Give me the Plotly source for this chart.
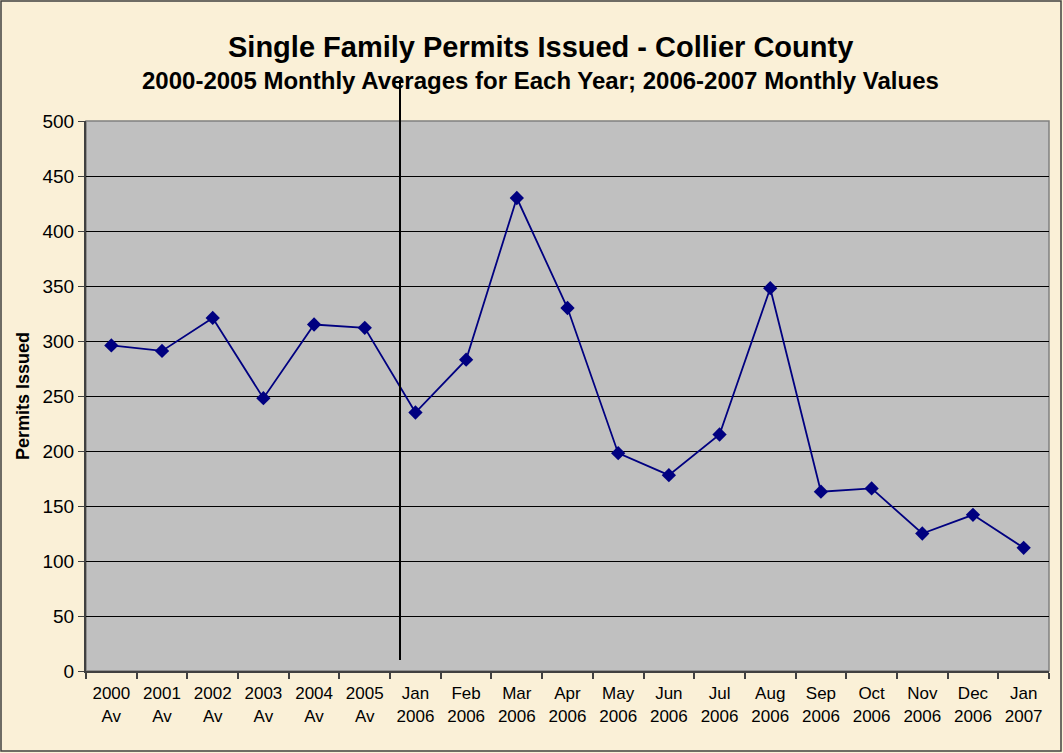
import plotly.graph_objects as go

categories = ["2000<br>Av", "2001<br>Av", "2002<br>Av", "2003<br>Av", "2004<br>Av", "2005<br>Av",
              "Jan<br>2006", "Feb<br>2006", "Mar<br>2006", "Apr<br>2006", "May<br>2006", "Jun<br>2006",
              "Jul<br>2006", "Aug<br>2006", "Sep<br>2006", "Oct<br>2006", "Nov<br>2006", "Dec<br>2006",
              "Jan<br>2007"]
permits = [296, 291, 321, 248, 315, 312, 235, 283, 430, 330, 198, 178, 215, 348, 163, 166, 125, 142, 112]
y_ticks = [0, 50, 100, 150, 200, 250, 300, 350, 400, 450, 500]

W, H = 1063, 753
L, R, T, B = 86, 14, 121, 82
pw = W - L - R
ph = H - T - B

fig = go.Figure()
fig.add_trace(go.Scatter(
    x=list(range(len(categories))), y=permits, mode="lines+markers",
    line=dict(color="#000080", width=1.8),
    marker=dict(symbol="diamond", size=11, color="#000080"),
    showlegend=False, hoverinfo="skip"))

def px(x):
    return (x - L) / pw

def py(y):
    return (H - B - y) / ph

shapes = [
    # divider line
    dict(type="line", xref="paper", yref="paper", x0=px(400), x1=px(400), y0=py(660), y1=py(80),
         line=dict(color="black", width=2)),
    # outer frame
    dict(type="rect", xref="paper", yref="paper", x0=px(1), x1=px(1061), y0=py(751), y1=py(1),
         line=dict(color="#404040", width=1.5), layer="below"),
    # plot border
    dict(type="rect", xref="paper", yref="paper", x0=0, x1=1, y0=0, y1=1,
         line=dict(color="#808080", width=1.5), layer="below"),
]

fig.add_annotation(text="<b>Single Family Permits Issued - Collier County</b>", xref="paper", yref="paper",
                   x=px(540), y=py(47), xanchor="center", yanchor="middle", showarrow=False,
                   font=dict(family="Arial", size=29, color="black"))
fig.add_annotation(text="<b>2000-2005 Monthly Averages for Each Year; 2006-2007 Monthly Values</b>",
                   xref="paper", yref="paper", x=px(540), y=py(80), xanchor="center", yanchor="middle",
                   showarrow=False, font=dict(family="Arial", size=24, color="black"))

fig.update_layout(
    width=W, height=H,
    margin=dict(l=L, r=R, t=T, b=B),
    paper_bgcolor="#FAF0D7",
    plot_bgcolor="#C0C0C0",
    shapes=shapes,
    font=dict(family="Arial", size=16, color="black"),
    xaxis=dict(
        range=[-0.5, len(categories) - 0.5],
        tickmode="array", tickvals=list(range(len(categories))), ticktext=categories,
        showgrid=False, zeroline=False,
        showline=True, linecolor="#404040", linewidth=2,
        ticks="", ticklabelstandoff=6,
        tickfont=dict(family="Arial", size=17, color="black"),
        minor=dict(ticks="outside", tickmode="array",
                   tickvals=[i - 0.5 for i in range(len(categories) + 1)],
                   ticklen=6, tickcolor="#404040", tickwidth=1.5, showgrid=False),
        fixedrange=True,
    ),
    yaxis=dict(
        range=[0, 500], tickmode="array", tickvals=y_ticks,
        showgrid=True, gridcolor="black", gridwidth=1,
        zeroline=False, showline=True, linecolor="#404040", linewidth=2,
        ticks="outside", ticklen=6, tickcolor="#404040",
        tickfont=dict(family="Arial", size=19, color="black"),
        title=dict(text="<b>Permits Issued</b>", font=dict(family="Arial", size=18, color="black"), standoff=8),
        fixedrange=True,
    ),
)

fig.write_html("out.html", config={"displayModeBar": False},
               post_script="document.body.style.margin='0';")
